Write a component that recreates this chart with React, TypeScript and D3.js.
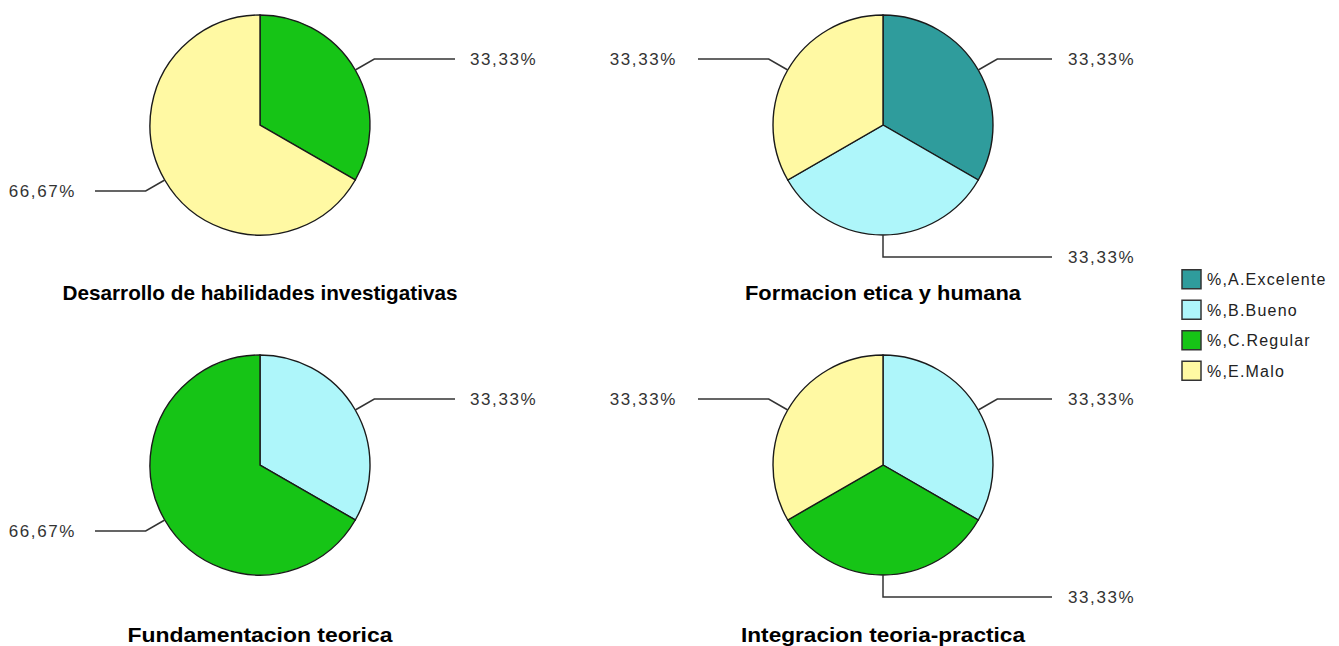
import React from "react";
import * as d3 from "d3";

const categories = ["%,A.Excelente", "%,B.Bueno", "%,C.Regular", "%,E.Malo"];
const colors = ["#2f9c9c", "#aef6fa", "#16c416", "#fff9a3"];
const chartTitles = [
  "Desarrollo de habilidades investigativas",
  "Formacion etica y humana",
  "Fundamentacion teorica",
  "Integracion teoria-practica",
];
const desarrolloValues = [0, 0, 33.33, 66.67];
const formacionValues = [33.33, 33.33, 0, 33.33];
const fundamentacionValues = [0, 33.33, 66.67, 0];
const integracionValues = [0, 33.33, 33.33, 33.33];
const seriesValues = [desarrolloValues, formacionValues, fundamentacionValues, integracionValues];

const panels = [
  { cx: 260, cy: 125, rightEnd: 195, rightText: 210, leftEnd: 165, leftText: 184, titleY: 300, titleW: 395 },
  { cx: 883, cy: 125, rightEnd: 169, rightText: 185, leftEnd: 185, leftText: 206, titleY: 300, titleW: 276 },
  { cx: 260, cy: 465, rightEnd: 195, rightText: 210, leftEnd: 165, leftText: 184, titleY: 642, titleW: 265 },
  { cx: 883, cy: 465, rightEnd: 169, rightText: 185, leftEnd: 185, leftText: 206, titleY: 642, titleW: 284 },
];

const R = 110;
const R_ELBOW = 132;
const fmt = (v: number) => v.toFixed(2).replace(".", ",") + "%";

function Pie({ values, panel, title }: { values: number[]; panel: any; title: string }) {
  const data = values.map((v, i) => ({ v, i })).filter((d) => d.v > 0);
  const pie = d3.pie<{ v: number; i: number }>().sort(null).value((d) => d.v);
  const arcs = pie(data);
  const arcGen = d3.arc<any>().innerRadius(0).outerRadius(R);
  const { cx, cy } = panel;
  return (
    <g>
      <g transform={`translate(${cx},${cy})`}>
        {arcs.map((a, k) => (
          <path key={k} d={arcGen(a) || ""} fill={colors[a.data.i]} stroke="#1a1a1a" strokeWidth={1.4} />
        ))}
      </g>
      {arcs.map((a, k) => {
        const mid = (a.startAngle + a.endAngle) / 2;
        const s = Math.sin(mid);
        const c = Math.cos(mid);
        const x0 = cx + R * s;
        const y0 = cy - R * c;
        const x1 = cx + R_ELBOW * s;
        const y1 = cy - R_ELBOW * c;
        const right = s >= -0.01;
        const x2 = right ? cx + panel.rightEnd : cx - panel.leftEnd;
        const tx = right ? cx + panel.rightText : cx - panel.leftText;
        return (
          <g key={"l" + k}>
            <polyline points={`${x0},${y0} ${x1},${y1} ${x2},${y1}`} fill="none" stroke="#333" strokeWidth={1.5} />
            <text
              x={tx}
              y={y1}
              dy="0.36em"
              textAnchor={right ? "start" : "end"}
              fontFamily="Liberation Sans, Arial, sans-serif"
              fontSize={17}
              letterSpacing={1.6}
              fill="#333"
            >
              {fmt(a.data.v)}
            </text>
          </g>
        );
      })}
      <text
        x={cx}
        y={panel.titleY}
        textAnchor="middle"
        fontFamily="Liberation Sans Narrow, Liberation Sans, Arial, sans-serif"
        fontWeight="bold"
        fontSize={21}
        textLength={panel.titleW}
        lengthAdjust="spacingAndGlyphs"
        fill="#000"
      >
        {title}
      </text>
    </g>
  );
}

export default function App() {
  const legendY = d3.scaleBand<number>().domain(d3.range(categories.length)).range([264, 386]);
  return (
    <svg width={1339} height={646} style={{ position: "absolute", left: 0, top: 0, background: "#fff" }}>
      <rect width={1339} height={646} fill="#fff" />
      {seriesValues.map((vals, i) => (
        <Pie key={i} values={vals} panel={panels[i]} title={chartTitles[i]} />
      ))}
      {categories.map((c, i) => {
        const y = (legendY(i) || 0) + legendY.bandwidth() / 2;
        return (
          <g key={c}>
            <rect x={1182} y={y - 9.5} width={19} height={19} fill={colors[i]} stroke="#333" strokeWidth={1.5} />
            <text
              x={1207}
              y={y}
              dy="0.36em"
              fontFamily="Liberation Sans, Arial, sans-serif"
              fontSize={16}
              letterSpacing={1.2}
              fill="#222"
            >
              {c}
            </text>
          </g>
        );
      })}
    </svg>
  );
}
